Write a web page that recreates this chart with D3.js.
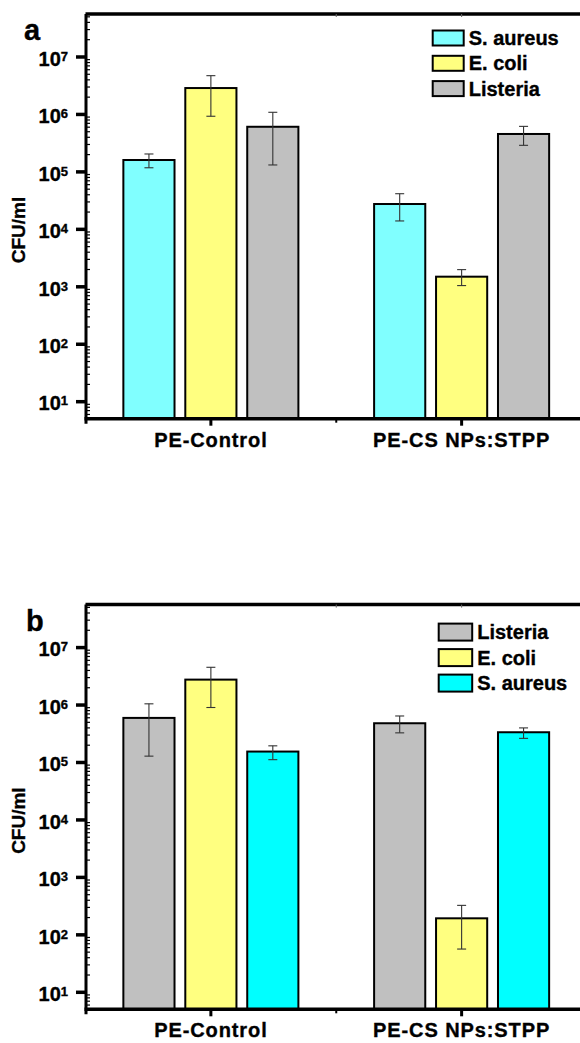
<!DOCTYPE html>
<html>
<head>
<meta charset="utf-8">
<script src="https://cdn.jsdelivr.net/npm/d3@7"></script>
<style>
  body { margin: 0; background: #fff; }
  svg { display: block; font-family: "Liberation Sans", Arial, sans-serif; font-weight: bold; }
  svg text { stroke: #000; stroke-width: 0.35px; }
</style>
</head>
<body>
<div id="visDiv"></div>
<script>
// DATA
var categories = ["PE-Control", "PE-CS NPs:STPP"];
var yTickExps = [1, 2, 3, 4, 5, 6, 7];

// panel a
var seriesA = ["S. aureus", "E. coli", "Listeria"];
var colorsA = ["#80ffff", "#ffff80", "#c0c0c0"];
var meansA = [[1.61e5, 2.76e4], [2.88e6, 1.5e3], [6.1e5, 4.57e5]];
var upperA = [[2.05e5, 4.17e4], [4.73e6, 1.99e3], [1.09e6, 6.2e5]];
var lowerA = [[1.18e5, 1.4e4], [9.3e5, 1.05e3], [1.32e5, 2.9e5]];

// panel b
var seriesB = ["Listeria", "E. coli", "S. aureus"];
var colorsB = ["#c0c0c0", "#ffff80", "#00ffff"];
var meansB = [[5.97e5, 4.82e5], [2.77e6, 194], [1.55e5, 3.36e5]];
var upperB = [[1.05e6, 6.45e5], [4.54e6, 326], [1.95e5, 4.0e5]];
var lowerB = [[1.29e5, 3.28e5], [9.06e5, 56.6], [1.12e5, 2.63e5]];

var W = 580, H = 1043;
var svg = d3.select('#visDiv').append('svg')
	.attr('width', W).attr('height', H);

function drawPanel(opt) {
	var g = svg.append('g').attr('transform', 'translate(0,' + opt.dy + ')');

	var x = d3.scaleLinear().domain([0.5, 2.5]).range([85.5, 587]);
	var y = d3.scaleLog().domain([5.06, 5.6e7]).range([418.7, 14]);
	var bw = 0.204, pitch = 0.247;

	// bars
	opt.series.forEach(function (s, i) {
		var off = (i - 1) * pitch;
		var bars = g.append('g');
		bars.selectAll('rect')
			.data(opt.means[i])
			.enter().append('rect')
			.attr('x', function (d, j) { return x(j + 1 + off - bw / 2); })
			.attr('width', x(bw) - x(0))
			.attr('y', function (d) { return y(d); })
			.attr('height', function (d) { return y.range()[0] - y(d); })
			.attr('fill', opt.colors[i])
			.attr('stroke', '#000')
			.attr('stroke-width', 2);

		// error bars
		opt.means[i].forEach(function (m, j) {
			var cx = x(j + 1 + off);
			var eg = g.append('g').attr('stroke', '#333').attr('stroke-width', 1.1);
			eg.append('line').attr('x1', cx).attr('x2', cx)
				.attr('y1', y(opt.upper[i][j])).attr('y2', y(opt.lower[i][j]));
			[opt.upper[i][j], opt.lower[i][j]].forEach(function (v) {
				eg.append('line').attr('x1', cx - 4.5).attr('x2', cx + 4.5)
					.attr('y1', y(v)).attr('y2', y(v));
			});
		});
	});

	var y0 = y.range()[0], yTop = y.range()[1];

	// top spine
	g.append('line').attr('x1', 85.5).attr('x2', 590)
		.attr('y1', yTop).attr('y2', yTop)
		.attr('stroke', '#000').attr('stroke-width', 3.5);
	[1.5, 2].forEach(function (v) {
		g.append('line').attr('x1', x(v)).attr('x2', x(v))
			.attr('y1', yTop).attr('y2', yTop + 3)
			.attr('stroke', '#666').attr('stroke-width', 1);
	});

	// minor ticks on left axis (inward)
	var minors = [];
	for (var e = 0; e <= 7; e++) {
		for (var k = 2; k <= 9; k++) {
			var v = k * Math.pow(10, e);
			if (v > y.domain()[0] && v < y.domain()[1]) minors.push(v);
		}
	}
	g.selectAll('.minor').data(minors).enter().append('line')
		.attr('class', 'minor')
		.attr('x1', 86).attr('x2', 90)
		.attr('y1', function (d) { return y(d); })
		.attr('y2', function (d) { return y(d); })
		.attr('stroke', '#000').attr('stroke-width', 1.2);

	// left axis line
	g.append('line').attr('x1', 86).attr('x2', 86)
		.attr('y1', yTop).attr('y2', y0 + 5)
		.attr('stroke', '#000').attr('stroke-width', 3);

	// major ticks + labels
	var tk = g.selectAll('.ytick').data(yTickExps).enter().append('g')
		.attr('class', 'ytick')
		.attr('transform', function (d) { return 'translate(0,' + y(Math.pow(10, d)) + ')'; });
	tk.append('line').attr('x1', 76).attr('x2', 86)
		.attr('stroke', '#000').attr('stroke-width', 3.5);
	var lbl = tk.append('text').attr('x', 68).attr('y', 8.7)
		.attr('text-anchor', 'end').attr('font-size', 20);
	lbl.append('tspan').text('10');
	lbl.append('tspan').attr('font-size', 13).attr('dy', -5).text(function (d) { return d; });

	// bottom axis
	g.append('line').attr('x1', 84.5).attr('x2', 590)
		.attr('y1', y0).attr('y2', y0)
		.attr('stroke', '#000').attr('stroke-width', 3.5);
	[1, 2].forEach(function (v) {
		g.append('line').attr('x1', x(v)).attr('x2', x(v))
			.attr('y1', y0).attr('y2', y0 + 7)
			.attr('stroke', '#000').attr('stroke-width', 3);
	});
	g.append('line').attr('x1', x(1.5)).attr('x2', x(1.5))
		.attr('y1', y0).attr('y2', y0 + 4)
		.attr('stroke', '#000').attr('stroke-width', 2);

	g.selectAll('.xlab').data(categories).enter().append('text')
		.attr('class', 'xlab')
		.attr('x', function (d, i) { return x(i + 1); })
		.attr('y', y0 + 28)
		.attr('text-anchor', 'middle')
		.attr('font-size', 20)
		.attr('letter-spacing', 0.9)
		.text(function (d) { return d; });

	// y label
	g.append('text')
		.attr('transform', 'translate(24.5,230) rotate(-90)')
		.attr('text-anchor', 'middle')
		.attr('font-size', 19)
		.text('CFU/ml');

	// panel letter
	g.append('text').attr('x', opt.letterX).attr('y', 40)
		.attr('font-size', 29).text(opt.letter);

	// legend
	var lg = g.selectAll('.leg').data(opt.series).enter().append('g')
		.attr('class', 'leg')
		.attr('transform', function (d, i) { return 'translate(' + opt.legX + ',' + (opt.legY + i * opt.legStep) + ')'; });
	lg.append('rect').attr('x', 0).attr('y', -opt.boxH / 2)
		.attr('width', opt.boxW).attr('height', opt.boxH)
		.attr('fill', function (d, i) { return opt.colors[i]; })
		.attr('stroke', '#000').attr('stroke-width', 2);
	lg.append('text').attr('x', opt.boxW + 5).attr('y', 7)
		.attr('font-size', 20).text(function (d) { return d; });
}

drawPanel({
	dy: 0, letter: 'a', letterX: 24,
	series: seriesA, colors: colorsA, means: meansA, upper: upperA, lower: lowerA,
	legX: 432.7, legY: 38, legStep: 25.3, boxW: 31, boxH: 15
});
drawPanel({
	dy: 590.6, letter: 'b', letterX: 26,
	series: seriesB, colors: colorsB, means: meansB, upper: upperB, lower: lowerB,
	legX: 438.7, legY: 41.5, legStep: 25.5, boxW: 33.5, boxH: 17
});
</script>
</body>
</html>
